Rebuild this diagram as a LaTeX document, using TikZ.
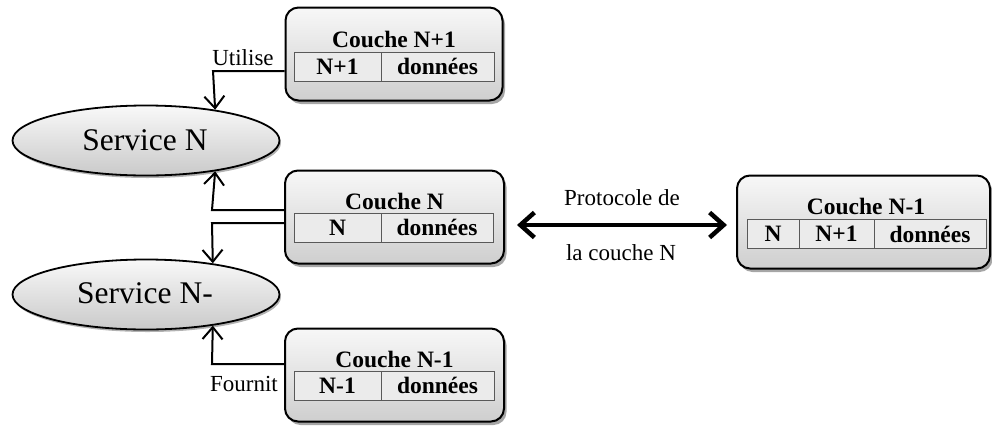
\documentclass[tikz,border=0pt]{standalone}
\usepackage{fontspec}
\setmainfont{Liberation Serif}
\usetikzlibrary{arrows.meta,shadows,shapes.geometric}
\tikzset{
  layer/.style={draw=black, line width=2pt, rounded corners=13pt,
    top color=gray!6, bottom color=gray!38,
    drop shadow={shadow xshift=2.5pt, shadow yshift=-3.5pt, opacity=0.35, fill=black},
    minimum width=#1, minimum height=93pt, inner sep=0pt},
  layer/.default=219pt,
  cell/.style={draw=gray!70!black, line width=1pt, fill=gray!16,
    minimum height=29pt, inner sep=0pt, font=\fontsize{23.5}{23.5}\selectfont\bfseries},
  title/.style={font=\fontsize{23.5}{23.5}\selectfont\bfseries, inner sep=0pt},
  service/.style={ellipse, draw=black, line width=1.8pt,
    top color=gray!5, bottom color=gray!42,
    drop shadow={shadow xshift=1.5pt, shadow yshift=-2.5pt, opacity=0.3, fill=black},
    minimum width=267pt, minimum height=70pt, inner sep=0pt},
  svtext/.style={font=\fontsize{31.5}{31.5}\selectfont, inner sep=0pt},
  lbl/.style={font=\fontsize{23}{23}\selectfont, inner sep=0pt},
  link/.style={line width=2pt, -{Straight Barb[length=12pt,width=20pt,line width=2pt]}},
  proto/.style={line width=4.5pt, {Straight Barb[length=14pt,width=25pt,line width=4.5pt]}-{Straight Barb[length=14pt,width=25pt,line width=4.5pt]}}
}
\begin{document}
\begin{tikzpicture}[x=1pt,y=-1pt]
\useasboundingbox (0,0) rectangle (992,426);

% services
\node[service] (e1) at (146,140.5) {};
\node[svtext] (t1) at (145,140) {Service N};
\node[service] (e2) at (146,294.5) {};
\node[svtext] (t2) at (145,293) {Service N-};

% layer N+1
\node[layer=217pt] (b1) at (394,54) {};
\node[title] (b1t) at (394,39) {Couche N+1};
\node[cell, minimum width=87pt] (b1a) at (337.5,66.5) {N+1};
\node[cell, minimum width=113pt] (b1b) at (437.5,66.5) {données};

% layer N
\node[layer] (b2) at (394.5,217) {};
\node[title] (b2t) at (394.5,201) {Couche N};
\node[cell, minimum width=87pt] (b2a) at (337.5,227.5) {N};
\node[cell, minimum width=112pt] (b2b) at (437,227.5) {données};

% layer N-1 (right)
\node[layer=253pt] (b3) at (863.5,222) {};
\node[title] (b3t) at (866,206) {Couche N-1};
\node[cell, minimum width=52pt] (b3a) at (773,234) {N};
\node[cell, minimum width=75pt] (b3b) at (836.5,234) {N+1};
\node[cell, minimum width=112pt] (b3c) at (930,234) {données};

% layer N-1 (bottom)
\node[layer] (b4) at (394.5,375) {};
\node[title] (b4t) at (394.5,359) {Couche N-1};
\node[cell, minimum width=87pt] (b4a) at (337.5,385.5) {N-1};
\node[cell, minimum width=113pt] (b4b) at (437.5,385.5) {données};

% bend points of the connectors
\coordinate (u) at (213,71);
\coordinate (p) at (212,210);
\coordinate (q) at (212,223);
\coordinate (f) at (212,364);

\draw[link] (b1.west |- u) -- (u) -- (e1.24.5);
\draw[link] (b2.west |- p) -- (p) -- (e1.-24.2);
\draw[link] (b2.west |- q) -- (q) -- (e2.25.3);
\draw[link] (b4.west |- f) -- (f) -- (e2.-25.3);

\node[lbl] (ut) at (243,58) {Utilise};
\node[lbl] (fo) at (244,384) {Fournit};

% peer protocol
\coordinate (pa) at (517,225);
\coordinate (pb) at (727,225);
\draw[proto] (pa) -- (pb);
\node[lbl] (pr1) at (622,198) {Protocole de};
\node[lbl] (pr2) at (621,253) {la couche N};
\end{tikzpicture}
\end{document}
